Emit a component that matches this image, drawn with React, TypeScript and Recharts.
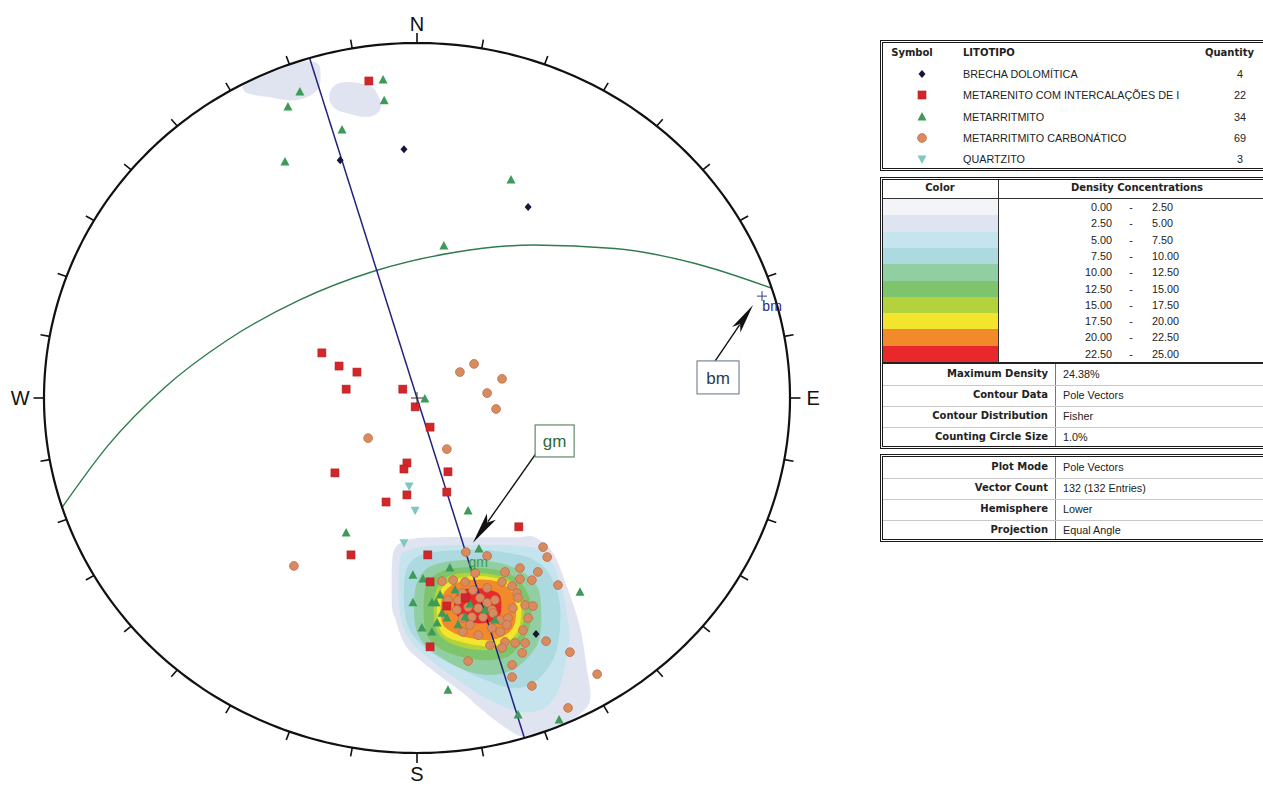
import React from "react";
import {
  ComposedChart,
  XAxis,
  YAxis,
  Scatter,
  ReferenceLine,
  ReferenceDot,
} from "recharts";

// Coordenadas projetadas no estereograma: x = leste, y = norte, raio primitivo = 100
const brechaDolomitica = [
  { x: -3.5, y: 70.1 }, { x: -20.6, y: 67.0 }, { x: 29.8, y: 53.8 }, { x: 31.9, y: -66.5 },
];

const metarenito = [
  { x: -12.9, y: 89.3 }, { x: -25.5, y: 12.7 }, { x: -20.9, y: 9.0 }, { x: -16.1, y: 7.3 },
  { x: -19.0, y: 2.5 }, { x: -3.8, y: 2.5 }, { x: -0.5, y: -2.5 }, { x: 3.5, y: -8.2 },
  { x: -2.7, y: -18.3 }, { x: -3.5, y: -20.0 }, { x: -22.0, y: -21.1 }, { x: 8.3, y: -20.8 },
  { x: -2.7, y: -27.3 }, { x: 8.0, y: -26.5 }, { x: -8.3, y: -29.3 }, { x: 27.3, y: -36.3 },
  { x: -17.7, y: -44.2 }, { x: 2.9, y: -44.2 }, { x: 3.5, y: -51.8 }, { x: 8.0, y: -58.6 },
  { x: 3.5, y: -70.1 }, { x: 12.9, y: -56.3 },
];

const metarritmito = [
  { x: -9.1, y: 89.6 }, { x: -31.4, y: 86.2 }, { x: -8.8, y: 83.7 }, { x: -34.6, y: 82.0 },
  { x: -20.1, y: 75.5 }, { x: -35.4, y: 66.5 }, { x: 25.2, y: 61.4 }, { x: 7.2, y: 42.8 },
  { x: 2.1, y: -0.3 }, { x: 13.7, y: -31.8 }, { x: -19.0, y: -38.0 }, { x: 16.6, y: -42.5 },
  { x: 8.8, y: -47.9 }, { x: -1.1, y: -49.9 }, { x: 1.6, y: -51.0 }, { x: 43.7, y: -54.7 },
  { x: 4.0, y: -57.7 }, { x: 5.1, y: -57.7 }, { x: -1.1, y: -57.7 }, { x: 6.7, y: -60.6 },
  { x: 8.0, y: -62.0 }, { x: 5.4, y: -63.4 }, { x: 1.3, y: -64.8 }, { x: 4.0, y: -65.9 },
  { x: 8.3, y: -82.3 }, { x: 27.1, y: -89.3 }, { x: 38.1, y: -90.7 }, { x: 12.9, y: -61.7 },
  { x: 10.2, y: -54.1 }, { x: 14.2, y: -58.0 }, { x: 11.0, y: -63.9 }, { x: 18.2, y: -59.7 },
  { x: 6.2, y: -55.5 }, { x: 20.9, y: -62.5 },
];

const metarritmitoCarbonatico = [
  { x: 15.3, y: 9.6 }, { x: 11.5, y: 7.3 }, { x: 22.8, y: 5.4 }, { x: 18.8, y: 1.4 },
  { x: 21.2, y: -3.1 }, { x: -13.1, y: -11.3 }, { x: 8.0, y: -14.4 }, { x: -33.0, y: -47.3 },
  { x: 13.1, y: -43.4 }, { x: 18.8, y: -44.5 }, { x: 33.8, y: -42.0 }, { x: 34.9, y: -44.8 },
  { x: 6.7, y: -51.6 }, { x: 9.7, y: -51.3 }, { x: 12.9, y: -51.8 }, { x: 15.6, y: -49.3 },
  { x: 23.6, y: -49.0 }, { x: 27.6, y: -47.9 }, { x: 32.4, y: -49.0 }, { x: 27.6, y: -51.0 },
  { x: 22.8, y: -51.8 }, { x: 25.5, y: -53.0 }, { x: 30.8, y: -51.3 }, { x: 37.8, y: -52.7 },
  { x: 26.8, y: -54.9 }, { x: 27.1, y: -56.3 }, { x: 29.0, y: -58.3 }, { x: 31.1, y: -58.6 },
  { x: 12.1, y: -54.9 }, { x: 15.0, y: -54.1 }, { x: 18.8, y: -53.5 }, { x: 8.3, y: -56.9 },
  { x: 13.7, y: -58.9 }, { x: 16.4, y: -59.2 }, { x: 18.8, y: -57.7 }, { x: 20.1, y: -59.7 },
  { x: 20.9, y: -56.9 }, { x: 20.4, y: -60.6 }, { x: 17.7, y: -61.7 }, { x: 14.7, y: -61.7 },
  { x: 12.3, y: -62.0 }, { x: 10.7, y: -59.7 }, { x: 11.0, y: -56.9 }, { x: 22.3, y: -62.5 },
  { x: 24.4, y: -62.0 }, { x: 24.1, y: -63.9 }, { x: 25.7, y: -59.2 }, { x: 28.4, y: -65.4 },
  { x: 12.3, y: -65.9 }, { x: 16.4, y: -66.8 }, { x: 20.1, y: -64.8 }, { x: 22.3, y: -65.9 },
  { x: 23.6, y: -68.7 }, { x: 26.3, y: -69.0 }, { x: 29.0, y: -69.0 }, { x: 22.8, y: -70.4 },
  { x: 28.2, y: -71.8 }, { x: 34.6, y: -68.5 }, { x: 41.0, y: -71.6 }, { x: 13.7, y: -74.1 },
  { x: 25.5, y: -75.2 }, { x: 25.5, y: -78.6 }, { x: 48.3, y: -77.8 }, { x: 30.8, y: -81.1 },
  { x: 40.5, y: -87.3 }, { x: 16.9, y: -56.3 }, { x: 14.2, y: -63.9 }, { x: 29.8, y: -62.0 },
  { x: 19.6, y: -69.6 },
];

const quartzito = [
  { x: -0.5, y: -31.6 }, { x: -3.5, y: -40.8 }, { x: -2.1, y: -24.8 },
];

// Contornos de densidade: para cada x, borda superior e inferior
const density2_5 = [
  { x: -6.7, top: -47.0, bot: -58.3 }, { x: -5.9, top: -42.3, bot: -62.0 },
  { x: -3.2, top: -40.3, bot: -69.6 }, { x: 0.8, top: -39.4, bot: -73.8 },
  { x: 6.2, top: -39.2, bot: -78.3 }, { x: 12.3, top: -39.2, bot: -83.1 },
  { x: 16.9, top: -39.2, bot: -87.3 }, { x: 22.3, top: -39.2, bot: -91.8 },
  { x: 27.6, top: -39.2, bot: -95.2 }, { x: 31.6, top: -39.2, bot: -94.4 },
  { x: 36.5, top: -43.7, bot: -93.0 }, { x: 40.2, top: -53.2, bot: -91.5 },
  { x: 43.7, top: -64.5, bot: -89.0 }, { x: 45.6, top: -76.6, bot: -87.0 },
  { x: 46.4, top: -81.7, bot: -85.1 },
];
const density2_5NorthA = [
  { x: -46.6, top: 88.0, bot: 86.8 }, { x: -44.8, top: 89.0, bot: 85.6 },
  { x: -39.4, top: 91.5, bot: 84.7 }, { x: -34.0, top: 93.6, bot: 83.8 },
  { x: -30.0, top: 94.8, bot: 84.5 }, { x: -27.3, top: 94.6, bot: 86.2 },
  { x: -26.0, top: 93.0, bot: 88.2 },
];
const density2_5NorthB = [
  { x: -23.3, top: 86.2, bot: 83.4 }, { x: -21.4, top: 88.5, bot: 81.1 },
  { x: -18.0, top: 89.0, bot: 80.0 }, { x: -14.7, top: 88.5, bot: 79.2 },
  { x: -11.8, top: 87.3, bot: 79.5 }, { x: -9.9, top: 83.9, bot: 81.1 },
];
const density5 = [
  { x: -4.6, top: -45.6, bot: -60.3 }, { x: -1.9, top: -42.8, bot: -68.2 },
  { x: 3.5, top: -41.7, bot: -73.8 }, { x: 10.2, top: -41.4, bot: -78.9 },
  { x: 16.9, top: -41.4, bot: -83.7 }, { x: 22.3, top: -41.4, bot: -86.5 },
  { x: 27.6, top: -41.7, bot: -88.5 }, { x: 33.0, top: -42.8, bot: -87.9 },
  { x: 36.5, top: -47.0, bot: -85.1 }, { x: 38.9, top: -54.1, bot: -79.4 },
  { x: 40.2, top: -61.1, bot: -72.4 }, { x: 40.8, top: -65.9, bot: -68.2 },
];
const density7_5 = [
  { x: -3.2, top: -49.9, bot: -61.1 }, { x: -0.5, top: -45.1, bot: -67.6 },
  { x: 4.8, top: -43.4, bot: -72.4 }, { x: 11.5, top: -42.8, bot: -76.1 },
  { x: 18.2, top: -42.8, bot: -79.4 }, { x: 24.9, top: -43.7, bot: -81.7 },
  { x: 30.3, top: -45.1, bot: -80.8 }, { x: 34.3, top: -47.9, bot: -77.2 },
  { x: 37.0, top: -52.7, bot: -72.4 }, { x: 38.3, top: -58.3, bot: -65.4 },
];
const density10 = [
  { x: -0.5, top: -54.1, bot: -63.9 }, { x: 2.1, top: -48.5, bot: -69.6 },
  { x: 7.5, top: -46.2, bot: -73.8 }, { x: 14.2, top: -45.6, bot: -77.2 },
  { x: 20.9, top: -46.2, bot: -78.0 }, { x: 26.3, top: -47.9, bot: -76.1 },
  { x: 30.3, top: -50.7, bot: -72.4 }, { x: 33.0, top: -55.5, bot: -66.8 },
];
const density12_5 = [
  { x: 2.1, top: -54.1, bot: -64.8 }, { x: 4.8, top: -49.9, bot: -69.6 },
  { x: 10.2, top: -47.9, bot: -72.4 }, { x: 16.9, top: -47.9, bot: -73.8 },
  { x: 23.6, top: -49.0, bot: -73.2 }, { x: 27.6, top: -51.8, bot: -69.6 },
  { x: 30.3, top: -56.9, bot: -63.9 },
];
const density15 = [
  { x: 4.8, top: -55.5, bot: -63.9 }, { x: 7.5, top: -50.7, bot: -68.2 },
  { x: 12.9, top: -49.3, bot: -70.4 }, { x: 19.6, top: -49.6, bot: -71.0 },
  { x: 24.9, top: -51.3, bot: -69.6 }, { x: 28.2, top: -55.5, bot: -64.8 },
];
const density17_5 = [
  { x: 5.6, top: -56.9, bot: -63.1 }, { x: 7.5, top: -52.7, bot: -67.0 },
  { x: 12.9, top: -50.4, bot: -69.0 }, { x: 19.6, top: -50.4, bot: -69.9 },
  { x: 24.9, top: -52.1, bot: -68.2 }, { x: 27.6, top: -56.3, bot: -63.9 },
];
const density20 = [
  { x: 6.7, top: -56.3, bot: -63.1 }, { x: 9.4, top: -52.7, bot: -65.9 },
  { x: 14.2, top: -51.3, bot: -67.6 }, { x: 19.6, top: -51.3, bot: -68.2 },
  { x: 24.1, top: -53.2, bot: -66.5 }, { x: 26.3, top: -56.9, bot: -63.1 },
];
const density22_5 = [
  { x: 10.2, top: -56.3, bot: -60.3 }, { x: 12.1, top: -54.1, bot: -62.5 },
  { x: 15.6, top: -53.5, bot: -63.4 }, { x: 19.6, top: -54.1, bot: -63.1 },
  { x: 22.3, top: -55.8, bot: -61.1 },
];

// Grandes círculos
const greatCircleBm = [
  { x: -95.2, y: -30.9 }, { x: -82.7, y: -13.2 }, { x: -67.7, y: 2.9 }, { x: -50.7, y: 16.4 },
  { x: -31.7, y: 27.5 }, { x: -11.6, y: 35.7 }, { x: 9.5, y: 40.9 }, { x: 31.3, y: 43.1 },
  { x: 53.0, y: 42.1 }, { x: 74.6, y: 37.9 }, { x: 95.2, y: 30.9 },
];
const greatCircleGm = [{ x: -28.8, y: 95.8 }, { x: 28.8, y: -95.8 }];

const arrowBm = [{ x: 79.9, y: 10.4 }, { x: 90.1, y: 26.2 }];
const arrowGm = [{ x: 32.4, y: -14.9 }, { x: 15.0, y: -40.8 }];

// Legenda
const litotipoNames = [
  "BRECHA DOLOMÍTICA",
  "METARENITO COM INTERCALAÇÕES DE I",
  "METARRITMITO",
  "METARRITMITO CARBONÁTICO",
  "QUARTZITO",
];
const litotipoQuantities = [4, 22, 34, 69, 3];
const densityFrom = ["0.00", "2.50", "5.00", "7.50", "10.00", "12.50", "15.00", "17.50", "20.00", "22.50"];
const densityTo = ["2.50", "5.00", "7.50", "10.00", "12.50", "15.00", "17.50", "20.00", "22.50", "25.00"];
const densityColors = [
  "#f3f4f8", "#dfe4f0", "#c6e4ee", "#acdae0", "#91cfa2",
  "#7ec46c", "#b3d23c", "#f3e42d", "#f28a2b", "#e8282a",
];
const contourLabels = ["Maximum Density", "Contour Data", "Contour Distribution", "Counting Circle Size"];
const contourValues = ["24.38%", "Pole Vectors", "Fisher", "1.0%"];
const plotLabels = ["Plot Mode", "Vector Count", "Hemisphere", "Projection"];
const plotValues = ["Pole Vectors", "132 (132 Entries)", "Lower", "Equal Angle"];

const contourLayers = [
  { data: density2_5, color: densityColors[1] },
  { data: density2_5NorthA, color: densityColors[1] },
  { data: density2_5NorthB, color: densityColors[1] },
  { data: density5, color: densityColors[2] },
  { data: density7_5, color: densityColors[3] },
  { data: density10, color: densityColors[4] },
  { data: density12_5, color: densityColors[5] },
  { data: density15, color: densityColors[6] },
  { data: density17_5, color: densityColors[7] },
  { data: density20, color: densityColors[8] },
  { data: density22_5, color: densityColors[9] },
];

const toPolygon = (cols: { x: number; top: number; bot: number }[]) => [
  ...cols.map((c) => ({ x: c.x, y: c.top })),
  ...[...cols].reverse().map((c) => ({ x: c.x, y: c.bot })),
];

// moldura do diagrama (círculo primitivo e marcas a cada 10°)
const primitive = Array.from({ length: 361 }, (_, i) => ({
  x: 100 * Math.sin((i * Math.PI) / 180),
  y: 100 * Math.cos((i * Math.PI) / 180),
}));
const tickAzimuths = Array.from({ length: 36 }, (_, i) => i * 10);

const closedCurve = (pts: { x: number; y: number }[]) => {
  const n = pts.length;
  let d = `M${pts[0].x},${pts[0].y}`;
  for (let i = 0; i < n; i++) {
    const p0 = pts[(i - 1 + n) % n];
    const p1 = pts[i];
    const p2 = pts[(i + 1) % n];
    const p3 = pts[(i + 2) % n];
    const c1x = p1.x + (p2.x - p0.x) / 6;
    const c1y = p1.y + (p2.y - p0.y) / 6;
    const c2x = p2.x - (p3.x - p1.x) / 6;
    const c2y = p2.y - (p3.y - p1.y) / 6;
    d += ` C${c1x},${c1y} ${c2x},${c2y} ${p2.x},${p2.y}`;
  }
  return d + "Z";
};

const Empty = () => <g />;

const DiamondDot = ({ cx, cy }: any) => (
  <polygon points={`${cx},${cy - 4} ${cx + 3.5},${cy} ${cx},${cy + 4} ${cx - 3.5},${cy}`} fill="#15153d" />
);
const SquareDot = ({ cx, cy }: any) => (
  <rect x={cx - 4} y={cy - 4} width={8} height={8} fill="#d3262a" stroke="#b51c1f" strokeWidth={0.6} />
);
const TriangleDot = ({ cx, cy }: any) => (
  <polygon points={`${cx},${cy - 5} ${cx + 4.5},${cy + 3.5} ${cx - 4.5},${cy + 3.5}`} fill="#3d9a58" />
);
const CircleDot = ({ cx, cy }: any) => (
  <circle cx={cx} cy={cy} r={4.4} fill="#d98b60" stroke="#bf6d47" strokeWidth={0.8} />
);
const InvTriangleDot = ({ cx, cy }: any) => (
  <polygon points={`${cx - 4.5},${cy - 3.5} ${cx + 4.5},${cy - 3.5} ${cx},${cy + 5}`} fill="#7ec8c3" />
);

const Arrow = ({ points, head, width }: any) => {
  const [a, b] = points;
  const dx = b.x - a.x;
  const dy = b.y - a.y;
  const len = Math.hypot(dx, dy);
  const ux = dx / len;
  const uy = dy / len;
  const bx = b.x - ux * head;
  const by = b.y - uy * head;
  const px = -uy;
  const py = ux;
  return (
    <g>
      <line x1={a.x} y1={a.y} x2={bx + ux * 6} y2={by + uy * 6} stroke="#111" strokeWidth={1.4} />
      <polygon
        points={`${b.x},${b.y} ${bx + (px * width) / 2},${by + (py * width) / 2} ${bx + ux * 7},${by + uy * 7} ${bx - (px * width) / 2},${by - (py * width) / 2}`}
        fill="#111"
      />
    </g>
  );
};

const compassLabel = (txt: string) => ({ cx, cy }: any) => (
  <text
    x={cx}
    y={cy}
    textAnchor="middle"
    dominantBaseline="central"
    fontSize={20}
    fontFamily="Liberation Sans, Arial, sans-serif"
    fill="#111"
  >
    {txt}
  </text>
);

const boxLabel = (txt: string, color: string, border: string, w: number, h: number) => ({ cx, cy }: any) => (
  <g>
    <rect x={cx - w / 2} y={cy - h / 2} width={w} height={h} fill="#fff" stroke={border} strokeWidth={1.2} />
    <text
      x={cx}
      y={cy + 1}
      textAnchor="middle"
      dominantBaseline="central"
      fontSize={17}
      fontFamily="Liberation Sans, Arial, sans-serif"
      fill={color}
    >
      {txt}
    </text>
  </g>
);

const smallLabel = (txt: string, color: string) => ({ cx, cy }: any) => (
  <text
    x={cx}
    y={cy}
    textAnchor="middle"
    dominantBaseline="central"
    fontSize={14}
    fontFamily="Liberation Sans, Arial, sans-serif"
    fill={color}
  >
    {txt}
  </text>
);

const plusMark = (color: string, s: number) => ({ cx, cy }: any) => (
  <g stroke={color} strokeWidth={1}>
    <line x1={cx - s} y1={cy} x2={cx + s} y2={cy} />
    <line x1={cx} y1={cy - s} x2={cx} y2={cy + s} />
  </g>
);

const Stereonet = () => (
  <ComposedChart width={840} height={786} margin={{ top: 43, right: 50, bottom: 33, left: 44 }}>
    <XAxis type="number" dataKey="x" domain={[-100, 100]} hide />
    <YAxis type="number" dataKey="y" domain={[-100, 100]} hide />
    {contourLayers.map((layer, i) => (
      <Scatter
        key={`contour-${i}`}
        data={toPolygon(layer.data)}
        shape={Empty}
        line={(p: any) => <path d={closedCurve(p.points)} fill={layer.color} stroke="none" />}
        isAnimationActive={false}
      />
    ))}
    <Scatter
      data={greatCircleBm}
      shape={Empty}
      line={{ stroke: "#2f7b4d", strokeWidth: 1.4 }}
      lineJointType="monotoneX"
      isAnimationActive={false}
    />
    <Scatter
      data={greatCircleGm}
      shape={Empty}
      line={{ stroke: "#22227e", strokeWidth: 1.5 }}
      isAnimationActive={false}
    />
    <Scatter data={metarritmitoCarbonatico} shape={CircleDot} isAnimationActive={false} />
    <Scatter data={metarritmito} shape={TriangleDot} isAnimationActive={false} />
    <Scatter data={metarenito} shape={SquareDot} isAnimationActive={false} />
    <Scatter data={brechaDolomitica} shape={DiamondDot} isAnimationActive={false} />
    <Scatter data={quartzito} shape={InvTriangleDot} isAnimationActive={false} />
    <Scatter
      data={primitive}
      shape={Empty}
      line={{ stroke: "#111", strokeWidth: 2.2 }}
      isAnimationActive={false}
    />
    <Scatter
      data={arrowGm}
      shape={Empty}
      line={(p: any) => <Arrow points={p.points} head={32} width={11} />}
      isAnimationActive={false}
    />
    <Scatter
      data={arrowBm}
      shape={Empty}
      line={(p: any) => <Arrow points={p.points} head={30} width={10} />}
      isAnimationActive={false}
    />
    {tickAzimuths.map((az) => {
      const s = Math.sin((az * Math.PI) / 180);
      const c = Math.cos((az * Math.PI) / 180);
      const len = az % 90 === 0 ? 102.8 : 102.5;
      return (
        <ReferenceLine
          key={`tick-${az}`}
          segment={[
            { x: 100 * s, y: 100 * c },
            { x: len * s, y: len * c },
          ]}
          stroke="#111"
          strokeWidth={1.6}
          ifOverflow="visible"
        />
      );
    })}
    <ReferenceDot x={0} y={105.4} r={0} ifOverflow="visible" shape={compassLabel("N")} />
    <ReferenceDot x={0} y={-105.8} r={0} ifOverflow="visible" shape={compassLabel("S")} />
    <ReferenceDot x={106.2} y={0} r={0} ifOverflow="visible" shape={compassLabel("E")} />
    <ReferenceDot x={-106.4} y={0} r={0} ifOverflow="visible" shape={compassLabel("W")} />
    <ReferenceDot x={0} y={0} r={0} ifOverflow="visible" shape={plusMark("#333", 6)} />
    <ReferenceDot x={92.5} y={28.7} r={0} ifOverflow="visible" shape={plusMark("#3a3a8a", 5)} />
    <ReferenceDot x={95.2} y={25.9} r={0} ifOverflow="visible" shape={smallLabel("bm", "#2a2a7a")} />
    <ReferenceDot x={16.4} y={-46.2} r={0} ifOverflow="visible" shape={smallLabel("gm", "#3c9a55")} />
    <ReferenceDot x={80.7} y={5.8} r={0} ifOverflow="visible" shape={boxLabel("bm", "#2c3a55", "#7b8799", 42, 33)} />
    <ReferenceDot x={36.9} y={-12.1} r={0} ifOverflow="visible" shape={boxLabel("gm", "#2f6b3a", "#5e8a6a", 39, 32)} />
  </ComposedChart>
);

const BOLD = "'DejaVu Sans', Verdana, sans-serif";
const REG = "'Liberation Sans', Arial, sans-serif";

const Txt = ({ x, y, w = 200, align = "left", bold = false, size, children }: any) => {
  const left = align === "right" ? x - w : align === "center" ? x - w / 2 : x;
  return (
    <div
      style={{
        position: "absolute",
        left,
        top: y - 8,
        width: w,
        height: 16,
        lineHeight: "16px",
        textAlign: align,
        fontFamily: bold ? BOLD : REG,
        fontWeight: bold ? 700 : 400,
        fontSize: size ?? (bold ? 10 : 10.8),
        color: "#222",
        whiteSpace: "nowrap",
      }}
    >
      {children}
    </div>
  );
};

const Box = ({ top, height }: any) => (
  <div
    style={{
      position: "absolute",
      left: 880,
      top,
      width: 400,
      height,
      border: "3px double #1a1a1a",
      boxSizing: "border-box",
    }}
  />
);

const HLine = ({ y, x1 = 883, x2 = 1263, color = "#bbb", h = 1 }: any) => (
  <div style={{ position: "absolute", left: x1, top: y, width: x2 - x1, height: h, background: color }} />
);
const VLine = ({ x, y1, y2, color = "#555" }: any) => (
  <div style={{ position: "absolute", left: x, top: y1, width: 1, height: y2 - y1, background: color }} />
);

const legendShapes = [DiamondDot, SquareDot, TriangleDot, CircleDot, InvTriangleDot];

const LegendPanel = () => (
  <>
    <Box top={40} height={131} />
    <Txt x={912} y={53} w={80} align="center" bold>Symbol</Txt>
    <Txt x={963} y={53} bold>LITOTIPO</Txt>
    <Txt x={1205} y={53} bold>Quantity</Txt>
    {litotipoNames.map((name, i) => {
      const y = 74 + 21.3 * i;
      const Shape = legendShapes[i];
      return (
        <React.Fragment key={name}>
          <svg style={{ position: "absolute", left: 914, top: y - 8 }} width={16} height={16}>
            <Shape cx={8} cy={8} />
          </svg>
          <Txt x={963} y={y}>{name}</Txt>
          <Txt x={1240} y={y} w={40} align="center">{litotipoQuantities[i]}</Txt>
        </React.Fragment>
      );
    })}

    <Box top={177} height={272} />
    <Txt x={940} y={188} w={110} align="center" bold>Color</Txt>
    <Txt x={1137} y={188} w={200} align="center" bold>Density Concentrations</Txt>
    <HLine y={198} color="#333" />
    <VLine x={998} y1={180} y2={362} color="#333" />
    {densityColors.map((c, i) => (
      <div
        key={c}
        style={{ position: "absolute", left: 883, top: 199 + 16.3 * i, width: 115, height: 16.4, background: c }}
      />
    ))}
    {densityFrom.map((from, i) => {
      const y = 207 + 16.3 * i;
      return (
        <React.Fragment key={`r-${i}`}>
          <Txt x={1112} y={y} w={50} align="right">{from}</Txt>
          <Txt x={1131} y={y} w={20} align="center">-</Txt>
          <Txt x={1152} y={y}>{densityTo[i]}</Txt>
        </React.Fragment>
      );
    })}
    <HLine y={362} color="#222" h={2} />
    <VLine x={1055} y1={364} y2={446} color="#777" />
    {contourLabels.map((label, i) => {
      const y = 374 + 21 * i;
      return (
        <React.Fragment key={label}>
          {i > 0 && <HLine y={y - 10.5} x1={883} color="#c8c8c8" />}
          <Txt x={1048} y={y} w={170} align="right" bold>{label}</Txt>
          <Txt x={1063} y={y}>{contourValues[i]}</Txt>
        </React.Fragment>
      );
    })}

    <Box top={454} height={88} />
    <VLine x={1055} y1={457} y2={539} color="#777" />
    {plotLabels.map((label, i) => {
      const y = 467 + 21 * i;
      return (
        <React.Fragment key={label}>
          {i > 0 && <HLine y={y - 10.5} x1={883} color="#c8c8c8" />}
          <Txt x={1048} y={y} w={170} align="right" bold>{label}</Txt>
          <Txt x={1063} y={y}>{plotValues[i]}</Txt>
        </React.Fragment>
      );
    })}
  </>
);

export default function App() {
  return (
    <div
      style={{
        position: "absolute",
        left: 0,
        top: 0,
        width: 1263,
        height: 786,
        overflow: "hidden",
        background: "#fff",
      }}
    >
      <div style={{ position: "absolute", left: 0, top: 0 }}>
        <Stereonet />
      </div>
      <LegendPanel />
    </div>
  );
}
